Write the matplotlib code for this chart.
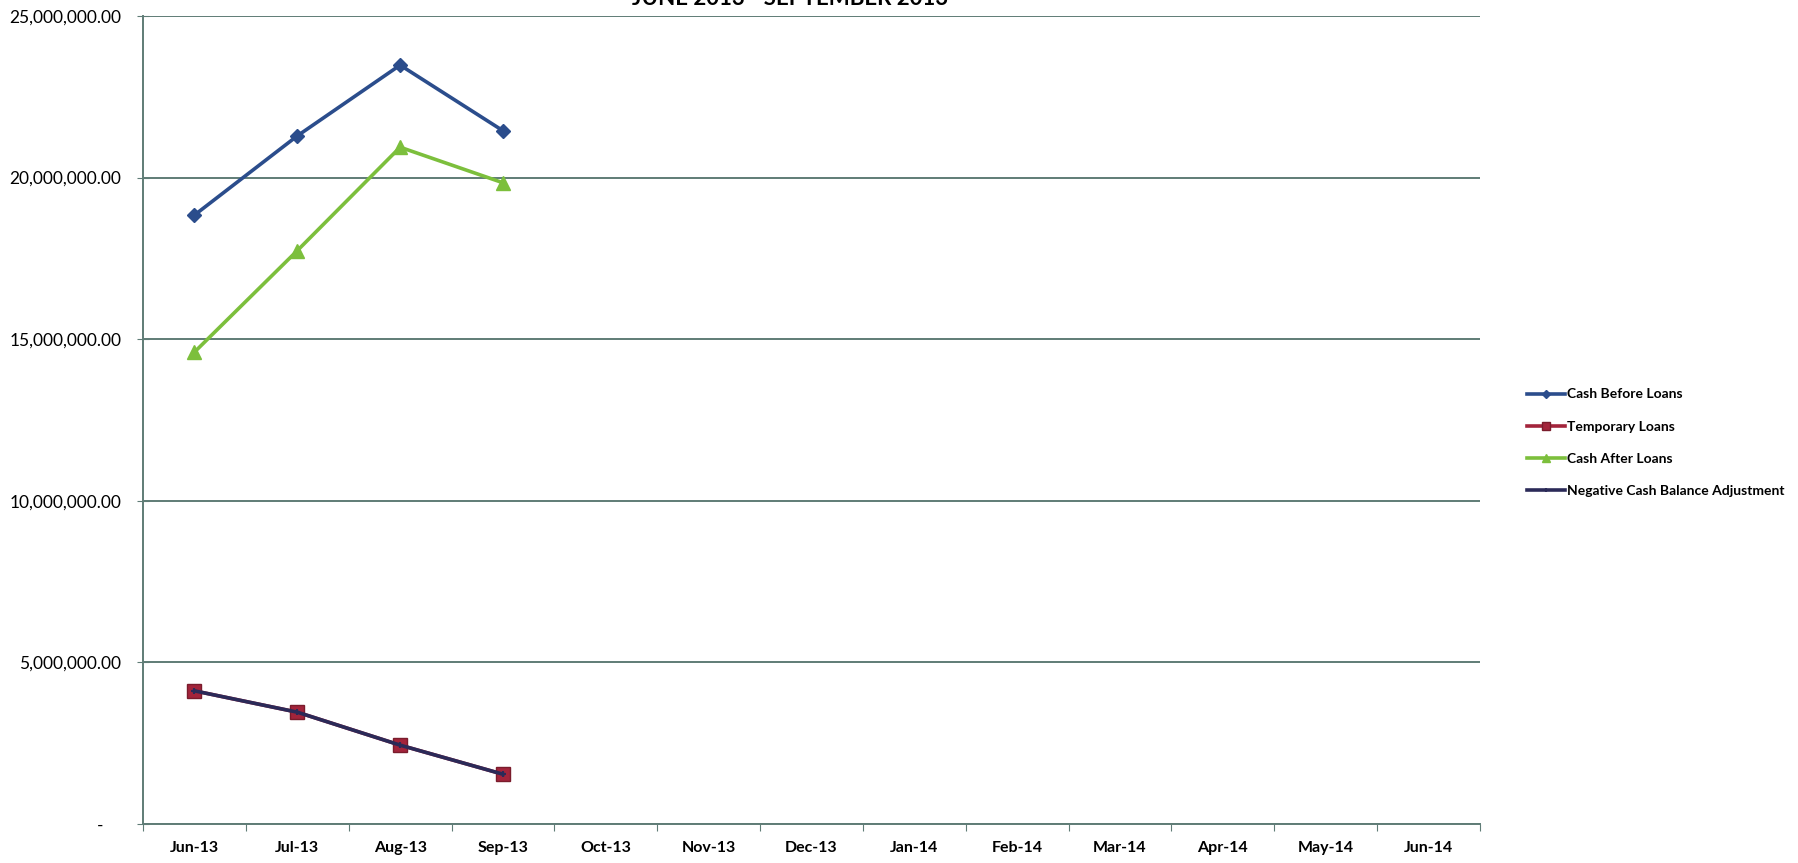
import matplotlib.pyplot as plt
from matplotlib.ticker import FixedLocator, FuncFormatter

# Monthly categories and series values
months = ['Jun-13', 'Jul-13', 'Aug-13', 'Sep-13', 'Oct-13', 'Nov-13', 'Dec-13',
          'Jan-14', 'Feb-14', 'Mar-14', 'Apr-14', 'May-14', 'Jun-14']
cash_before_loans = [18840000, 21290000, 23480000, 21450000]
temporary_loans = [4120000, 3460000, 2440000, 1540000]
cash_after_loans = [14600000, 17740000, 20940000, 19840000]
negative_cash_adj = [4120000, 3460000, 2440000, 1540000]

plt.rcParams['font.family'] = ['Lato', 'DejaVu Sans']

fig = plt.figure(figsize=(17.98, 8.63), dpi=100)
ax = fig.add_axes([143 / 1798, 1 - 824 / 863, (1480 - 143) / 1798, (824 - 16) / 863])

grid_col = '#5f7c76'
x_idx = list(range(len(months)))

ax.plot(x_idx[:4], cash_before_loans, color='#2b4d8c', lw=2.6, marker='D', ms=7.5,
        label='Cash Before Loans', zorder=3)
ax.plot(x_idx[:4], temporary_loans, color='#a3243b', lw=2.6, marker='s', ms=10,
        mec='#7a1c2c', label='Temporary Loans', zorder=3)
ax.plot(x_idx[:4], cash_after_loans, color='#7cbf3c', lw=2.6, marker='^', ms=10,
        label='Cash After Loans', zorder=3)
ax.plot(x_idx[:4], negative_cash_adj, color='#2b2a58', lw=2.6, marker='+', ms=5,
        mew=1.5, label='Negative Cash Balance Adjustment', zorder=4)

ax.set_xlim(-0.5, len(months) - 0.5)
ax.set_ylim(0, 25000000)

# y axis: gridlines every 5M, Excel-style number format
ax.set_yticks([0, 5e6, 10e6, 15e6, 20e6, 25e6])
ax.yaxis.set_major_formatter(FuncFormatter(
    lambda v, p: '-    ' if v == 0 else f'{v:,.2f}'))
ax.yaxis.grid(True, color=grid_col, lw=1.4)
ax.set_axisbelow(True)
ax.tick_params(axis='y', direction='inout', length=8, color=grid_col,
               labelsize=12.5, pad=11.5)

# x axis: ticks between categories, labels centered on categories
ax.xaxis.set_major_locator(FixedLocator([i - 0.5 for i in range(len(months) + 1)]))
ax.xaxis.set_minor_locator(FixedLocator(x_idx))
ax.xaxis.set_major_formatter(FuncFormatter(lambda v, p: ''))
ax.xaxis.set_minor_formatter(FuncFormatter(lambda v, p: months[int(round(v))]))
ax.tick_params(axis='x', which='major', direction='out', length=5, color=grid_col)
ax.tick_params(axis='x', which='minor', length=0, labelsize=11.5, pad=12)
for lbl in ax.get_xticklabels(minor=True):
    lbl.set_fontweight('bold')

for side in ['top', 'right']:
    ax.spines[side].set_visible(False)
for side in ['left', 'bottom']:
    ax.spines[side].set_color(grid_col)
    ax.spines[side].set_linewidth(1.4)

leg = fig.legend(loc='upper left', bbox_to_anchor=(1514 / 1798, 1 - 376 / 863),
                 frameon=False, fontsize=10, handlelength=2.8, handletextpad=0.1,
                 labelspacing=1.45, markerscale=0.6)
for t in leg.get_texts():
    t.set_fontweight('bold')

fig.text(790 / 1798, 1 - 5 / 863, 'JUNE 2013 - SEPTEMBER 2013', ha='center',
         va='baseline', fontsize=16, fontweight='bold')

fig.savefig('out.png', dpi=100)
